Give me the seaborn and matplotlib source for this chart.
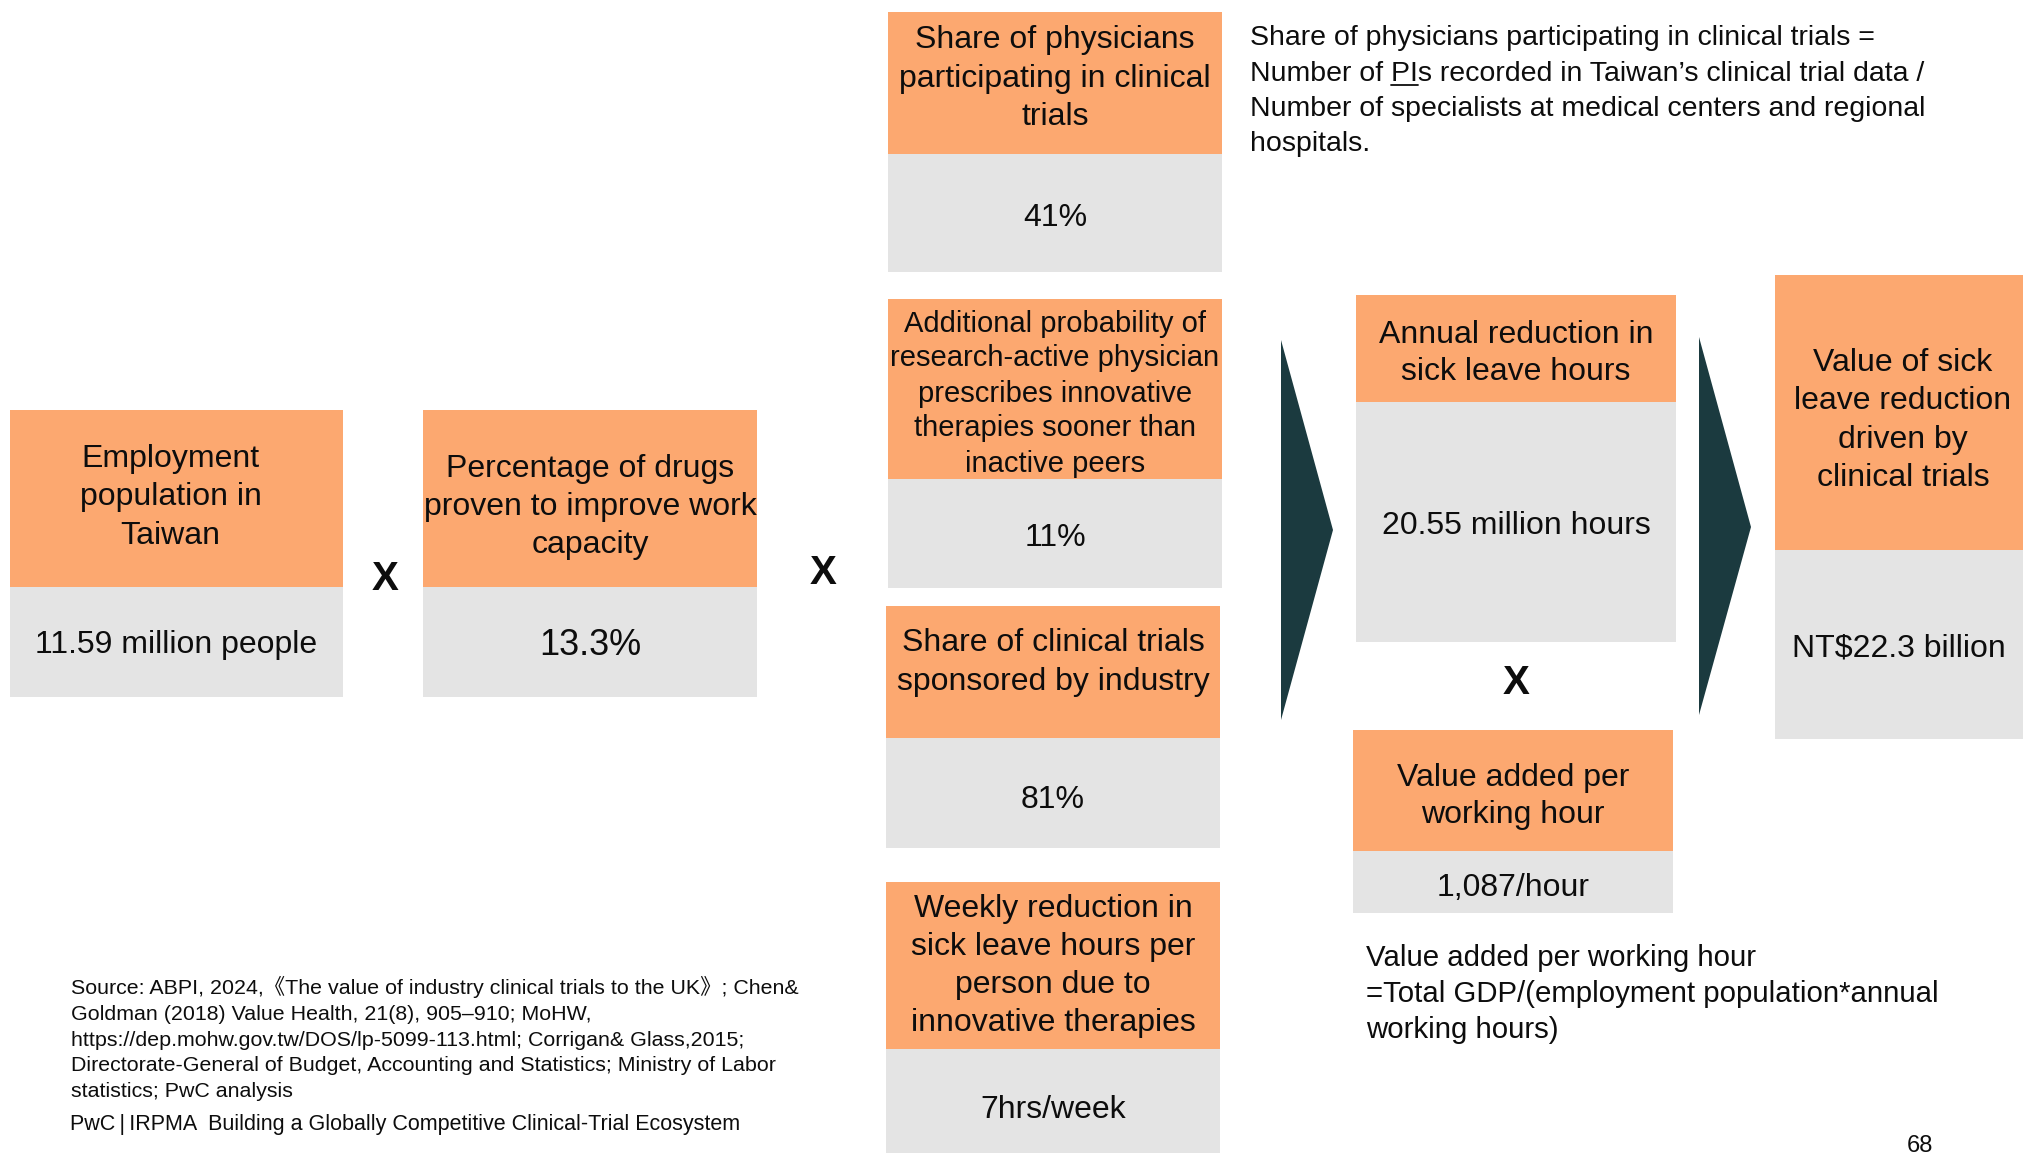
import matplotlib
matplotlib.use("Agg")
import matplotlib.pyplot as plt
from matplotlib.patches import Rectangle, Polygon
import seaborn as sns

# ---------------- data ----------------
labels = [
    ["Employment", "population in", "Taiwan"],
    ["Percentage of drugs", "proven to improve work", "capacity"],
    ["Share of physicians", "participating in clinical", "trials"],
    ["Additional probability of", "research-active physician", "prescribes innovative",
     "therapies sooner than", "inactive peers"],
    ["Share of clinical trials", "sponsored by industry"],
    ["Weekly reduction in", "sick leave hours per", "person due to", "innovative therapies"],
    ["Annual reduction in", "sick leave hours"],
    ["Value added per", "working hour"],
    ["Value of sick", "leave reduction", "driven by", "clinical trials"],
]
values = ["11.59 million people", "13.3%", "41%", "11%", "81%", "7hrs/week",
          "20.55 million hours", "1,087/hour", "NT$22.3 billion"]

note_lines = ["Share of physicians participating in clinical trials =",
              "Number of PIs recorded in Taiwan\u2019s clinical trial data /",
              "Number of specialists at medical centers and regional",
              "hospitals."]
gdp_lines = ["Value added per working hour",
             "=Total GDP/(employment population*annual",
             "working hours)"]
source_lines = ["Source: ABPI, 2024,\u300aThe value of industry clinical trials to the UK\u300b; Chen&",
                "Goldman (2018) Value Health, 21(8), 905\u2013910; MoHW,",
                "https://dep.mohw.gov.tw/DOS/lp-5099-113.html; Corrigan& Glass,2015;",
                "Directorate-General of Budget, Accounting and Statistics; Ministry of Labor",
                "statistics; PwC analysis"]
footer = "PwC\u2009|\u2009IRPMA  Building a Globally Competitive Clinical-Trial Ecosystem"
page_no = "68"

# ---------------- layout (pixels, y down) ----------------
# x0, x1, orange top, split, gray bottom, label centre x-shift, label centre y,
# label pitch, label size, value y, value size
boxes = [
    (10, 343, 410, 587, 697, -6, 494, 38.0, 23, 642, 23),
    (423, 757, 410, 587, 697, 0, 504, 38.0, 23, 642, 26),
    (888, 1222, 12, 154, 272, 0, 75, 38.7, 23, 214, 23),
    (888, 1222, 299, 479, 588, 0, 391, 35.0, 21, 534, 23),
    (886, 1220, 606, 738, 848, 0, 659, 38.7, 23, 796, 23),
    (886, 1220, 882, 1049, 1153, 0, 963, 38.0, 23, 1106, 23),
    (1356, 1676, 295, 402, 642, 0, 350, 37.5, 23, 522, 23),
    (1353, 1673, 730, 851, 913, 0, 793, 37.5, 23, 884, 23),
    (1775, 2023, 275, 550, 739, 4, 417, 38.5, 23, 645, 23),
]
times_pos = [(385, 576), (823, 569), (1516, 680)]
chevrons = [(1281, 1333, 340, 720, 530), (1699, 1751, 337, 715, 527)]

ORANGE = "#FCA870"
GRAY = "#E4E4E4"
DARK = "#1B3A3F"
TXT = "#0d0d0d"

sns.set_theme(style="white")
plt.rcParams["font.family"] = ["Liberation Sans", "Noto Sans CJK TC", "DejaVu Sans"]

W, H = 2023, 1153
fig = plt.figure(figsize=(W / 100, H / 100), dpi=100)
ax = fig.add_axes([0, 0, 1, 1])
ax.set_xlim(0, W)
ax.set_ylim(H, 0)
ax.axis("off")

PX = 100 / 72.0


def put_lines(x, yc, lines, pitch, size, ha="center", weight="normal"):
    n = len(lines)
    y0 = yc - (n - 1) / 2.0 * pitch
    off = 0.36 * size * PX
    out = []
    for i, line in enumerate(lines):
        out.append(ax.text(x, y0 + i * pitch + off, line, ha=ha, va="baseline",
                           fontsize=size, color=TXT, fontweight=weight))
    return out


for (x0, x1, t, s, b, lx, ly, lp, ls, vy, vs), lab, val in zip(boxes, labels, values):
    ax.add_patch(Rectangle((x0, t), x1 - x0, s - t, facecolor=ORANGE, edgecolor="none"))
    ax.add_patch(Rectangle((x0, s), x1 - x0, b - s, facecolor=GRAY, edgecolor="none"))
    cx = (x0 + x1) / 2.0
    put_lines(cx + lx, ly, lab, lp, ls)
    put_lines(cx, vy, [val], 0, vs)

for (x, y) in times_pos:
    put_lines(x, y, ["X"], 0, 29, weight="bold")

for (xl, xr, yt, yb, ym) in chevrons:
    ax.add_patch(Polygon([(xl, yt), (xr, ym), (xl, yb)], closed=True,
                         facecolor=DARK, edgecolor="none"))

put_lines(1250, 88, note_lines, 35.3, 20.5, ha="left")
put_lines(1366, 991, gdp_lines, 36.0, 21.2, ha="left")
put_lines(71, 1038, source_lines, 25.7, 15.4, ha="left")
put_lines(70, 1122, [footer], 0, 15.5, ha="left")
put_lines(1920, 1143, [page_no], 0, 17)

# underline "PI" in the note
fig.canvas.draw()
r = fig.canvas.get_renderer()
tmp = ax.text(1250, 0, "Number of ", fontsize=20.5, ha="left", va="baseline")
w_pre = tmp.get_window_extent(r).width
tmp.remove()
tmp = ax.text(1250, 0, "PI", fontsize=20.5, ha="left", va="baseline")
w_pi = tmp.get_window_extent(r).width
tmp.remove()
uy = 71 + 0.36 * 20.5 * PX + 4
ax.plot([1250 + w_pre, 1250 + w_pre + w_pi], [uy, uy], color=TXT, lw=1.3)

fig.savefig("out.png", dpi=100)
